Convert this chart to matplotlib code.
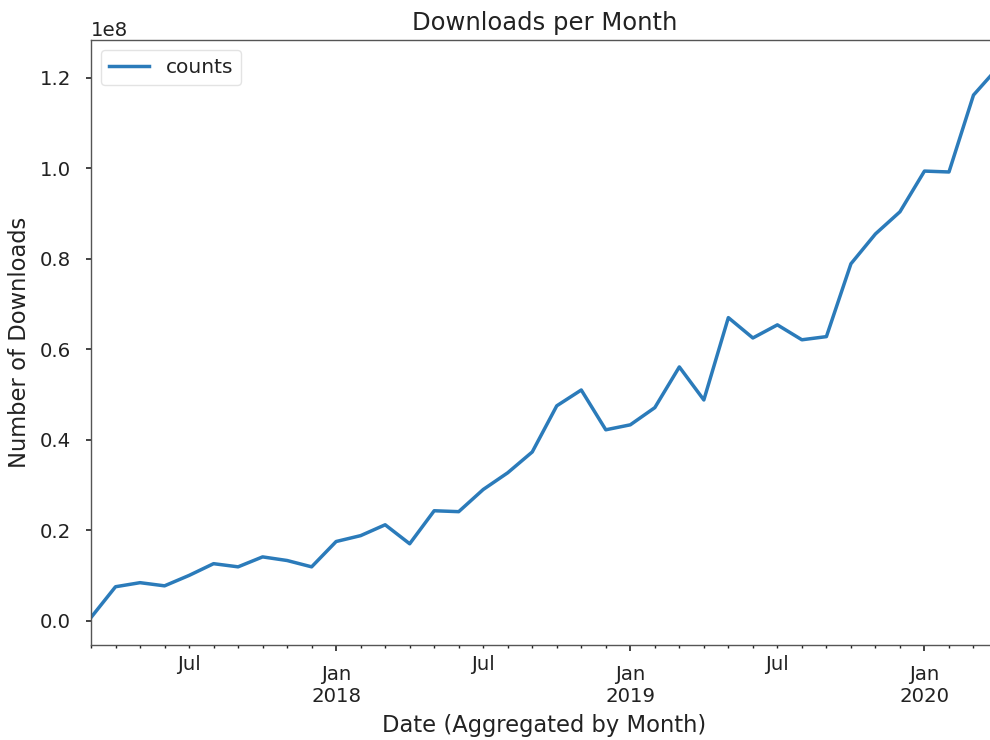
import matplotlib
matplotlib.use("Agg")
import matplotlib.pyplot as plt
import pandas as pd

months = pd.period_range("2017-03", "2020-04", freq="M")
counts = [0.007, 0.075, 0.084, 0.077, 0.100, 0.126, 0.119, 0.141, 0.133, 0.119,
          0.175, 0.188, 0.212, 0.170, 0.243, 0.241, 0.290, 0.327, 0.373, 0.475,
          0.510, 0.422, 0.433, 0.471, 0.561, 0.488, 0.670, 0.625, 0.654, 0.621,
          0.628, 0.789, 0.855, 0.904, 0.994, 0.992, 1.162, 1.223]
counts = [c * 1e8 for c in counts]

df = pd.DataFrame({"counts": counts}, index=months)

plt.rcParams.update({
    "font.family": "DejaVu Sans",
    "axes.edgecolor": "#555555",
    "axes.linewidth": 1.0,
    "xtick.color": "#222222",
    "ytick.color": "#222222",
    "text.color": "#222222",
    "axes.labelcolor": "#222222",
})

fig = plt.figure(figsize=(9.9, 7.4), dpi=100)
ax = fig.add_axes([91 / 990, 1 - 645 / 740, (998 - 91) / 990, (645 - 40) / 740])
df.plot(ax=ax, color="#2b7bba", linewidth=2.5)

ax.set_title("Downloads per Month", fontsize=17.5, pad=7.5)
ax.set_xlabel("Date (Aggregated by Month)", fontsize=16.3, labelpad=6)
ax.set_ylabel("Number of Downloads", fontsize=16.3, labelpad=6)
ax.tick_params(axis="both", which="both", labelsize=14.2)
ax.tick_params(axis="y", which="major", length=3.5, width=1.2, pad=11)
ax.tick_params(axis="x", which="major", length=4.5, width=1.2, pad=10)
ax.tick_params(axis="x", which="minor", length=2.5, width=1.0, pad=5)
ax.yaxis.get_offset_text().set_fontsize(14.2)
ax.legend(loc="upper left", fontsize=14.5, framealpha=0.8, edgecolor="#dddddd",
          borderaxespad=0.5)

fig.savefig("out.png", dpi=100)
